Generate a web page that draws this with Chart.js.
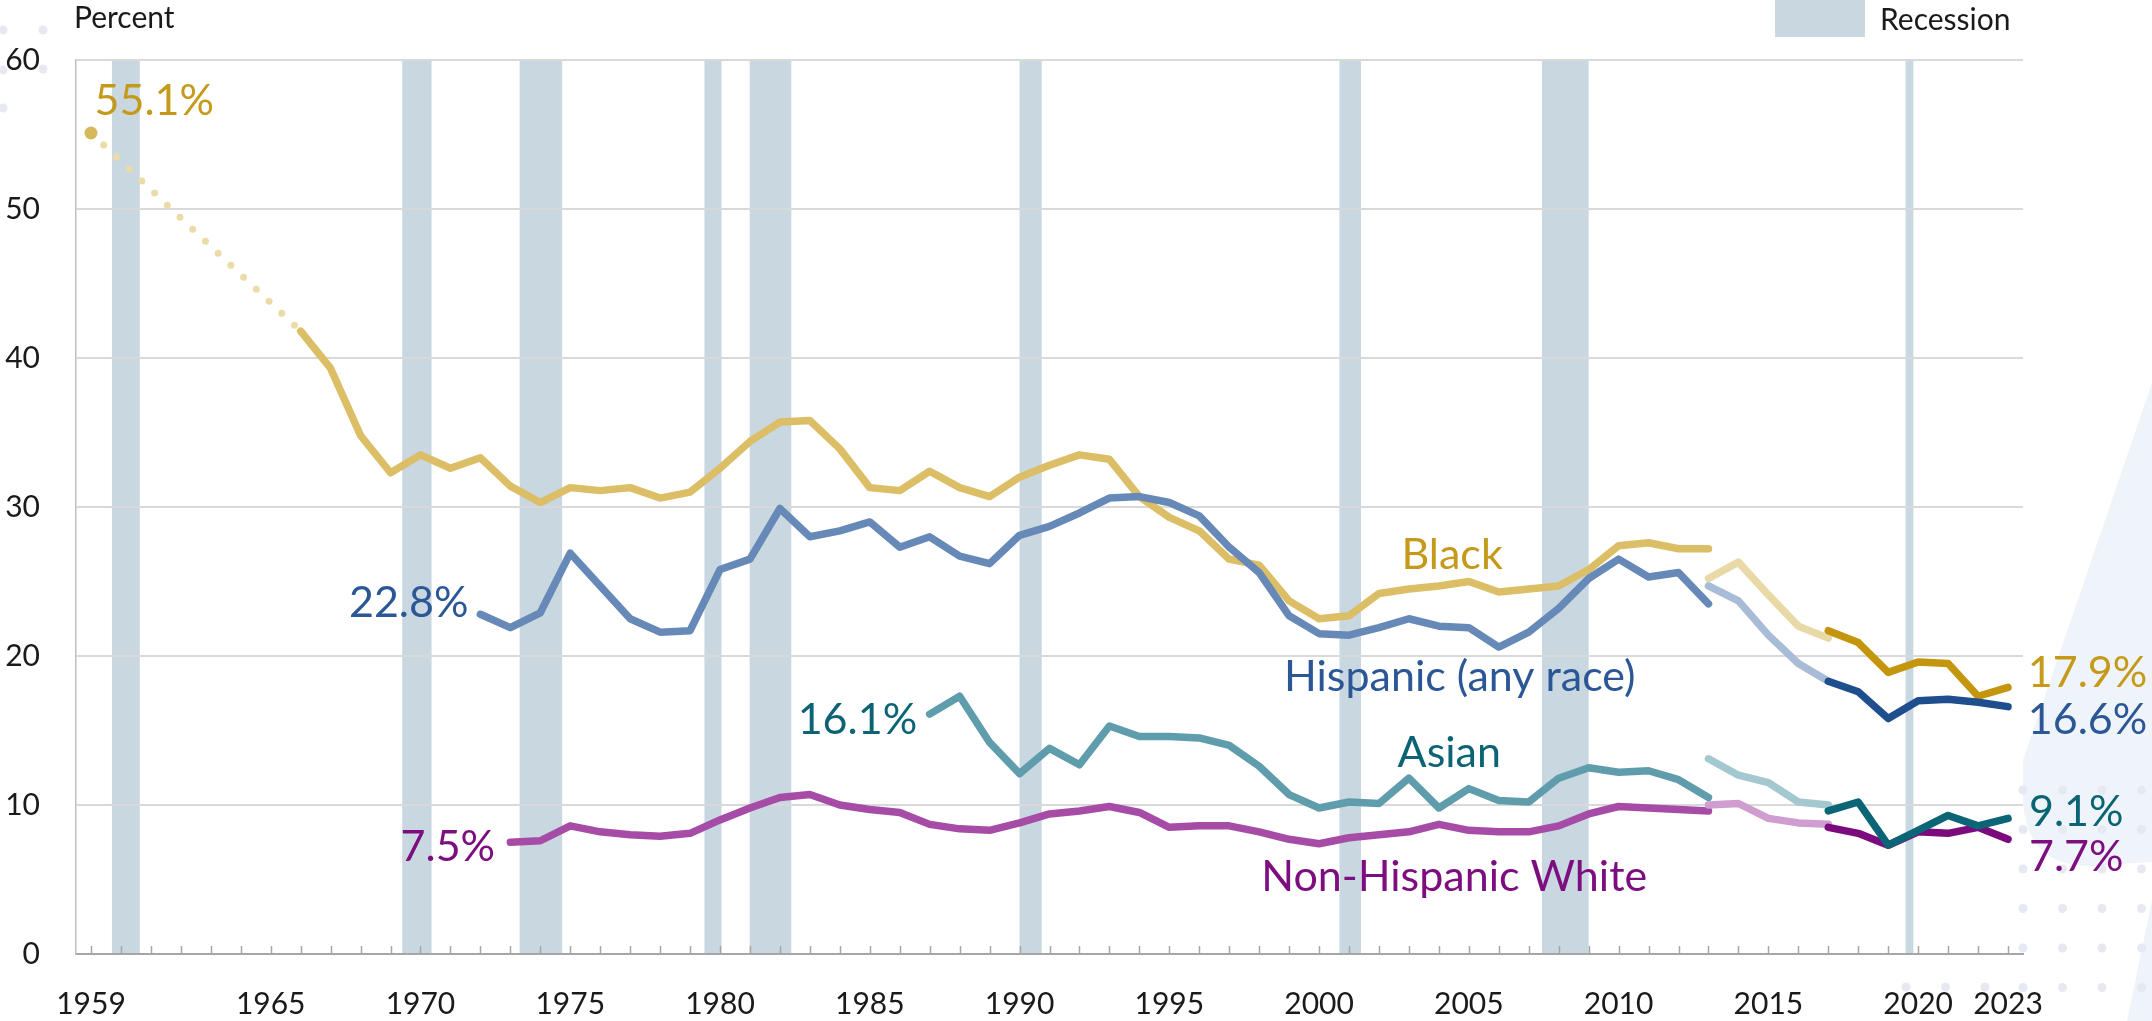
<!DOCTYPE html>
<html>
<head>
<meta charset="utf-8">
<script src="https://cdn.jsdelivr.net/npm/chart.js@4.4.1/dist/chart.umd.min.js"></script>
<style>
  body { margin: 0; background: #fff; }
  #wrap { width: 2152px; height: 1021px; }
</style>
</head>
<body>
<div id="wrap"><canvas id="povertyChart" width="2152" height="1021"></canvas></div>
<script>
    // 색상 설정
    const gold = '#C59A1A';
    const blue = '#2B5796';
    const teal = '#0B6474';
    const purple = '#7D0E80';
    const recessionColor = '#C9D7E1';

    // x축 라벨 (연도)
    const xLabelYears = [1959, 1965, 1970, 1975, 1980, 1985, 1990, 1995, 2000, 2005, 2010, 2015, 2020, 2023];
    const yTicks = [0, 10, 20, 30, 40, 50, 60];

    // 경기침체 구간 (축 기준 연도)
    const recessions = [
        [1959.7, 1960.63], [1969.39, 1970.37], [1973.31, 1974.73], [1979.48, 1980.05],
        [1980.99, 1982.38], [1990.0, 1990.74], [2000.68, 2001.4], [2007.44, 2009.0], [2019.58, 2019.84]
    ];

    // Black
    const blackEarly = [55.1, 41.8]; // 1959, 1966 (점선)
    const blackEarlyYears = [1959, 1966];
    const blackMain = [41.8, 39.3, 34.8, 32.3, 33.5, 32.6, 33.3, 31.4, 30.3, 31.3, 31.1, 31.3, 30.6, 31.0,
        32.6, 34.4, 35.7, 35.8, 33.9, 31.3, 31.1, 32.4, 31.3, 30.7, 32.0, 32.8, 33.5, 33.2, 30.7, 29.3,
        28.4, 26.5, 26.1, 23.7, 22.5, 22.7, 24.2, 24.5, 24.7, 25.0, 24.3, 24.5, 24.7, 25.8, 27.4, 27.6,
        27.2, 27.2]; // 1966-2013
    const blackMid = [25.2, 26.3, 24.1, 22.0, 21.2]; // 2013-2017
    const blackNew = [21.7, 20.9, 18.9, 19.6, 19.5, 17.3, 17.9]; // 2017-2023

    // Hispanic (any race)
    const hispanicMain = [22.8, 21.9, 22.9, 26.9, 24.7, 22.5, 21.6, 21.7, 25.8, 26.5, 29.9, 28.0, 28.4,
        29.0, 27.3, 28.0, 26.7, 26.2, 28.1, 28.7, 29.6, 30.6, 30.7, 30.3, 29.4, 27.3, 25.6, 22.7, 21.5,
        21.4, 21.9, 22.5, 22.0, 21.9, 20.6, 21.6, 23.2, 25.2, 26.5, 25.3, 25.6, 23.5]; // 1972-2013
    const hispanicMid = [24.7, 23.7, 21.4, 19.5, 18.3];
    const hispanicNew = [18.3, 17.6, 15.8, 17.0, 17.1, 16.9, 16.6];

    // Asian
    const asianMain = [16.1, 17.3, 14.2, 12.1, 13.8, 12.7, 15.3, 14.6, 14.6, 14.5, 14.0, 12.6, 10.7, 9.8,
        10.2, 10.1, 11.8, 9.8, 11.1, 10.3, 10.2, 11.8, 12.5, 12.2, 12.3, 11.7, 10.5]; // 1987-2013
    const asianMid = [13.1, 12.0, 11.5, 10.2, 10.0];
    const asianNew = [9.6, 10.2, 7.3, 8.3, 9.3, 8.6, 9.1];

    // Non-Hispanic White
    const whiteMain = [7.5, 7.6, 8.6, 8.2, 8.0, 7.9, 8.1, 9.0, 9.8, 10.5, 10.7, 10.0, 9.7, 9.5, 8.7, 8.4,
        8.3, 8.8, 9.4, 9.6, 9.9, 9.5, 8.5, 8.6, 8.6, 8.2, 7.7, 7.4, 7.8, 8.0, 8.2, 8.7, 8.3, 8.2, 8.2,
        8.6, 9.4, 9.9, 9.8, 9.7, 9.6]; // 1973-2013
    const whiteMid = [10.0, 10.1, 9.1, 8.8, 8.7];
    const whiteNew = [8.5, 8.1, 7.3, 8.2, 8.1, 8.5, 7.7];

    // 라벨 (x: 연도, y: 기준선 값)
    const notes = [
        { text: '55.1%', x: 1959.12, y: 56.3, align: 'left', color: gold },
        { text: '22.8%', x: 1971.6, y: 22.6, align: 'right', color: blue },
        { text: '7.5%', x: 1972.49, y: 6.26, align: 'right', color: purple },
        { text: '16.1%', x: 1986.58, y: 14.78, align: 'right', color: teal },
        { text: 'Black', x: 2002.75, y: 25.83, align: 'left', color: gold },
        { text: 'Hispanic (any race)', x: 1998.83, y: 17.66, align: 'left', color: blue },
        { text: 'Asian', x: 2002.62, y: 12.58, align: 'left', color: teal },
        { text: 'Non-Hispanic White', x: 1998.07, y: 4.2, align: 'left', color: purple },
        { text: '17.9%', x: 2023.66, y: 17.93, align: 'left', color: gold },
        { text: '16.6%', x: 2023.66, y: 14.78, align: 'left', color: blue },
        { text: '9.1%', x: 2023.7, y: 8.6, align: 'left', color: teal },
        { text: '7.7%', x: 2023.7, y: 5.57, align: 'left', color: purple }
    ];

    const pts = (start, values) => values.map((v, i) => ({ x: start + i, y: v }));

    const line = (data, color) => ({
        data: data,
        borderColor: color,
        borderWidth: 7.5,
        borderCapStyle: 'round',
        borderJoinStyle: 'round',
        pointRadius: 0,
        tension: 0,
        fill: false
    });

    // 배경 장식 + 경기침체 음영
    const bandsPlugin = {
        id: 'bands',
        beforeDraw(chart) {
            const { ctx, chartArea: a, scales: { x } } = chart;
            ctx.save();
            ctx.fillStyle = '#EFF4FA';
            ctx.beginPath();
            ctx.moveTo(2152, 383);
            ctx.lineTo(2023, 760);
            ctx.lineTo(2023, 800);
            ctx.quadraticCurveTo(2026, 866, 2090, 866);
            ctx.lineTo(2152, 862);
            ctx.closePath();
            ctx.fill();
            ctx.beginPath();
            ctx.moveTo(2127, 1021);
            ctx.lineTo(2152, 900);
            ctx.lineTo(2152, 1021);
            ctx.closePath();
            ctx.fill();
            ctx.fillStyle = '#E6E9F2';
            for (let yy = 790; yy <= 990; yy += 39.5) {
                for (let xx = 2023; xx <= 2150; xx += 39.5) {
                    ctx.beginPath(); ctx.arc(xx, yy, 4.5, 0, Math.PI * 2); ctx.fill();
                }
            }
            for (let xx = 1906; xx < 2023; xx += 39.5) {
                ctx.beginPath(); ctx.arc(xx, 987, 4.5, 0, Math.PI * 2); ctx.fill();
            }
            [[3, 30], [43, 30], [3, 70], [43, 69], [3, 108]].forEach(([dx, dy]) => {
                ctx.beginPath(); ctx.arc(dx, dy, 4.5, 0, Math.PI * 2); ctx.fill();
            });

            ctx.fillStyle = recessionColor;
            recessions.forEach(([s, e]) => {
                const x1 = x.getPixelForValue(s);
                const x2 = x.getPixelForValue(e);
                ctx.fillRect(x1, a.top, x2 - x1, a.bottom - a.top);
            });

            // 범례
            ctx.fillRect(1775, 0, 90, 37);
            ctx.fillStyle = '#1a1a1a';
            ctx.font = '30px Lato';
            ctx.textBaseline = 'middle';
            ctx.textAlign = 'left';
            ctx.fillText('Recession', 1880, 20);
            ctx.fillText('Percent', 74, 18);
            ctx.restore();
        },
        afterDatasetsDraw(chart) {
            const { ctx, chartArea: a, scales: { x, y } } = chart;
            ctx.save();
            // 연도 눈금
            ctx.strokeStyle = '#A6A6A6';
            ctx.lineWidth = 1.5;
            for (let yr = 1959; yr <= 2023; yr++) {
                const px = Math.round(x.getPixelForValue(yr)) + 0.5;
                ctx.beginPath();
                ctx.moveTo(px, a.bottom);
                ctx.lineTo(px, a.bottom - 8);
                ctx.stroke();
            }
            // 라벨
            ctx.textBaseline = 'alphabetic';
            ctx.font = '43px Lato';
            notes.forEach(n => {
                ctx.fillStyle = n.color;
                ctx.textAlign = n.align;
                ctx.fillText(n.text, x.getPixelForValue(n.x), y.getPixelForValue(n.y));
            });
            ctx.restore();
        }
    };

    const earlyBlack = line(blackEarlyYears.map((yr, i) => ({ x: yr, y: blackEarly[i] })), '#EBDBA9');
    earlyBlack.borderWidth = 7;
    earlyBlack.borderDash = [0, 17.5];
    earlyBlack.pointRadius = [6.5, 0];
    earlyBlack.pointBackgroundColor = '#D6B75A';
    earlyBlack.pointBorderWidth = 0;

    new Chart(document.getElementById('povertyChart'), {
        type: 'line',
        data: {
            datasets: [
                line(pts(2017, hispanicNew), '#1F4E8E'),
                line(pts(2017, blackNew), '#C4960D'),
                line(pts(2017, asianNew), '#0B6577'),
                line(pts(2017, whiteNew), '#7B0A7D'),
                line(pts(2013, hispanicMid), '#A8BCD7'),
                line(pts(2013, blackMid), '#E9D9A6'),
                line(pts(2013, asianMid), '#A3C8D0'),
                line(pts(2013, whiteMid), '#D09DD0'),
                line(pts(1972, hispanicMain), '#6689B8'),
                line(pts(1966, blackMain), '#DBBE66'),
                line(pts(1987, asianMain), '#5F9DAC'),
                line(pts(1973, whiteMain), '#A64CA6'),
                earlyBlack
            ]
        },
        options: {
            responsive: false,
            animation: false,
            devicePixelRatio: 1,
            layout: { padding: { top: 60, right: 129, left: 0, bottom: 0 } },
            plugins: {
                legend: { display: false },
                tooltip: { enabled: false }
            },
            scales: {
                x: {
                    type: 'linear',
                    min: 1958.5,
                    max: 2023.5,
                    afterFit: s => { s.height = 67; },
                    afterBuildTicks: s => { s.ticks = xLabelYears.map(v => ({ value: v })); },
                    grid: { display: false, drawTicks: false },
                    border: { display: true, color: '#A6A6A6', width: 2 },
                    ticks: {
                        autoSkip: false,
                        maxRotation: 0,
                        padding: 32,
                        color: '#1a1a1a',
                        font: { family: 'Lato', size: 30 },
                        callback: v => String(v)
                    }
                },
                y: {
                    min: 0,
                    max: 60,
                    afterFit: s => { s.width = 76; },
                    afterBuildTicks: s => { s.ticks = yTicks.map(v => ({ value: v })); },
                    grid: { color: '#D9D9D9', lineWidth: 2, drawTicks: false },
                    border: { display: true, color: '#BFBFBF', width: 1.5 },
                    ticks: {
                        padding: 36,
                        color: '#1a1a1a',
                        font: { family: 'Lato', size: 30 },
                        callback: v => String(v)
                    }
                }
            }
        },
        plugins: [bandsPlugin]
    });
</script>
</body>
</html>
